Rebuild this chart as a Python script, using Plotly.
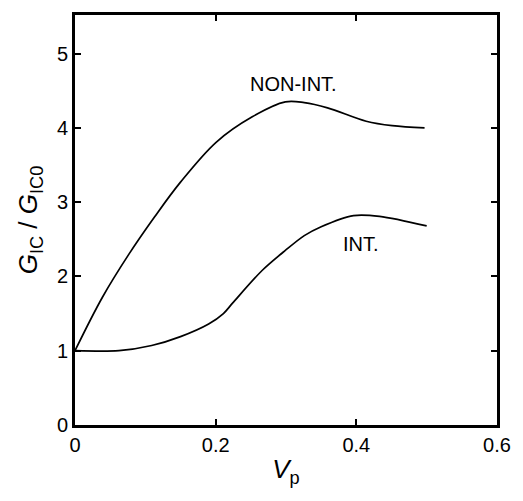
import plotly.graph_objects as go

# NON-INT. curve
x_nonint = [0.0, 0.039, 0.076, 0.113, 0.150, 0.201, 0.252, 0.299, 0.326, 0.359, 0.414, 0.451, 0.497]
y_nonint = [1.0, 1.72, 2.29, 2.80, 3.27, 3.81, 4.15, 4.35, 4.34, 4.27, 4.09, 4.03, 4.00]

# INT. curve
x_int = [0.0, 0.0625, 0.109, 0.150, 0.190, 0.211, 0.224, 0.266, 0.299, 0.326, 0.35, 0.396, 0.433, 0.50]
y_int = [1.0, 1.0, 1.07, 1.19, 1.36, 1.50, 1.64, 2.08, 2.35, 2.55, 2.67, 2.82, 2.81, 2.68]

x_ticks = [0, 0.2, 0.4, 0.6]
y_ticks = [0, 1, 2, 3, 4, 5]

labels = [("NON-INT.", 0.31, 4.59), ("INT.", 0.407, 2.44)]

font_family = "Liberation Sans, Arial, sans-serif"

fig = go.Figure()
fig.add_trace(go.Scatter(x=x_nonint, y=y_nonint, mode="lines",
                         line=dict(color="black", width=1.7, shape="spline", smoothing=1.0),
                         showlegend=False, hoverinfo="skip"))
fig.add_trace(go.Scatter(x=x_int, y=y_int, mode="lines",
                         line=dict(color="black", width=1.7, shape="spline", smoothing=0.9),
                         showlegend=False, hoverinfo="skip"))

for text, lx, ly in labels:
    fig.add_annotation(x=lx, y=ly, text=text, showarrow=False,
                       font=dict(family=font_family, size=20, color="black"))

axis_common = dict(showline=True, linecolor="black", linewidth=2.6, mirror="ticks",
                   ticks="inside", ticklen=6, tickwidth=1.5, tickcolor="black",
                   showgrid=False, zeroline=False,
                   tickfont=dict(family=font_family, size=20, color="black"))

fig.update_xaxes(range=[0, 0.6], tickvals=x_ticks, ticktext=["0", "0.2", "0.4", "0.6"],
                 title=dict(text="<i>V</i><sub>p</sub>", font=dict(family=font_family, size=26, color="black"),
                            standoff=6),
                 **axis_common)
fig.update_yaxes(range=[0, 5.52], tickvals=y_ticks,
                 title=dict(text="<i>G</i><sub>IC</sub> / <i>G</i><sub>IC0</sub>",
                            font=dict(family=font_family, size=26, color="black"), standoff=12),
                 **axis_common)

fig.update_layout(width=523, height=501, margin=dict(l=75, r=16, t=14, b=76),
                  paper_bgcolor="white", plot_bgcolor="white")

fig.write_html("out.html")
